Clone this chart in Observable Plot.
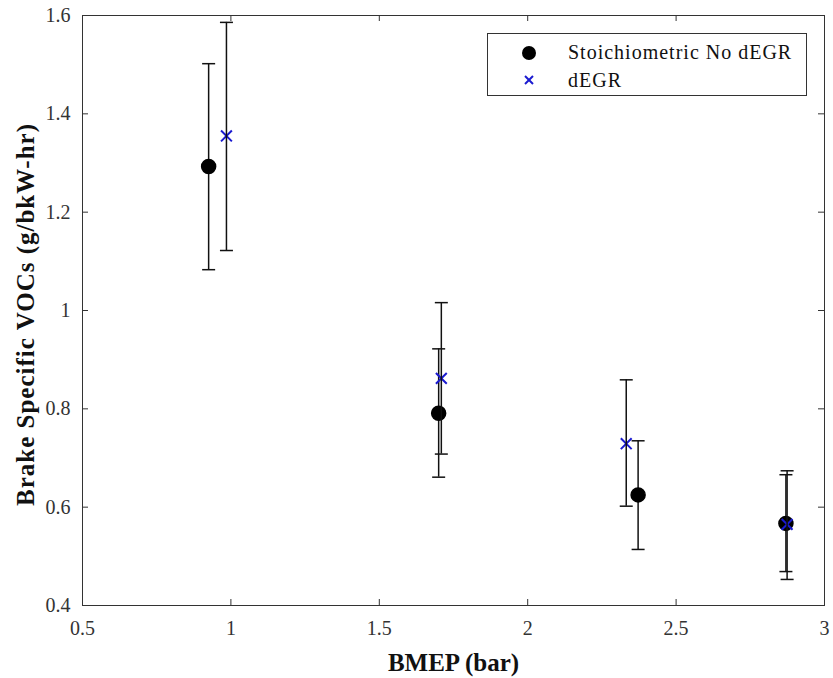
<!DOCTYPE html>
<html>
<head>
<meta charset="utf-8">
<script src="https://cdn.jsdelivr.net/npm/d3@7"></script>
<script src="https://cdn.jsdelivr.net/npm/@observablehq/plot@0.6"></script>
<style>
  body { margin: 0; background: #fff; }
  #wrap { position: relative; width: 833px; height: 678px; font-family: "Liberation Serif", "Times New Roman", "DejaVu Serif", serif; }
  #wrap svg, #wrap svg text { font-family: "Liberation Serif", "Times New Roman", "DejaVu Serif", serif !important; }
  #wrap .ylab text { letter-spacing: 1px; }
  #legend { position: absolute; left: 487px; top: 33px; width: 320px; height: 63px; border: 1px solid #333; background: #fff; box-sizing: border-box; }
  #legend text { letter-spacing: 1px; }
</style>
</head>
<body>
<div id="wrap"></div>
<script>
// Stoichiometric No dEGR
const stoichX = [0.925, 1.700, 2.372, 2.870];
const stoichY = [1.293, 0.791, 0.625, 0.567];
const stoichLo = [1.083, 0.661, 0.514, 0.469];
const stoichHi = [1.502, 0.922, 0.735, 0.666];
// dEGR
const degrX = [0.985, 1.709, 2.332, 2.874];
const degrY = [1.355, 0.862, 0.729, 0.565];
const degrLo = [1.122, 0.708, 0.602, 0.453];
const degrHi = [1.586, 1.016, 0.859, 0.674];

const xTicks = [0.5, 1, 1.5, 2, 2.5, 3];
const xTickLabels = ["0.5", "1", "1.5", "2", "2.5", "3"];
const yTicks = [0.4, 0.6, 0.8, 1.0, 1.2, 1.4, 1.6];
const yTickLabels = ["0.4", "0.6", "0.8", "1", "1.2", "1.4", "1.6"];
const seriesNames = ["Stoichiometric No dEGR", "dEGR"];
const xLabel = "BMEP (bar)";
const yLabel = "Brake Specific VOCs (g/bkW-hr)";

const stoich = stoichX.map((x, i) => ({x, y: stoichY[i], lo: stoichLo[i], hi: stoichHi[i]}));
const degr = degrX.map((x, i) => ({x, y: degrY[i], lo: degrLo[i], hi: degrHi[i]}));

const W = 833, H = 678, mL = 82, mR = 9, mT = 15, mB = 73;
const innerW = W - mL - mR, innerH = H - mT - mB;
const FONT = "Liberation Serif";

const capSymbol = { draw(ctx) { ctx.moveTo(-6.5, 0); ctx.lineTo(6.5, 0); } };
const blue = "#1a1ad0";

function errorMarks(data) {
  return [
    Plot.ruleX(data, {x: "x", y1: "lo", y2: "hi", stroke: "#111", strokeWidth: 1.5}),
    Plot.dot(data, {x: "x", y: "lo", symbol: capSymbol, stroke: "#111", strokeWidth: 1.5, fill: "none"}),
    Plot.dot(data, {x: "x", y: "hi", symbol: capSymbol, stroke: "#111", strokeWidth: 1.5, fill: "none"})
  ];
}

const chart = Plot.plot({
  width: W, height: H,
  marginLeft: mL, marginRight: mR, marginTop: mT, marginBottom: mB,
  style: {fontFamily: FONT, fontSize: "20px", color: "#333", background: "#fff"},
  x: {domain: [0.5, 3], label: null},
  y: {domain: [0.4, 1.6], label: null},
  marks: [
    Plot.frame({stroke: "#333", strokeWidth: 1}),
    Plot.axisX({ticks: xTicks, tickSize: 0, tickPadding: 15, tickFormat: (d) => xTickLabels[xTicks.indexOf(d)], fontSize: 20, fontFamily: FONT, label: null}),
    Plot.axisY({ticks: yTicks, tickSize: 0, tickPadding: 12, tickFormat: (d) => yTickLabels[yTicks.findIndex(t => Math.abs(t - d) < 1e-9)], fontSize: 20, fontFamily: FONT, label: null}),
    // inward ticks on all sides
    Plot.tickX(xTicks, {x: d => d, insetTop: innerH - 6, stroke: "#333"}),
    Plot.tickX(xTicks, {x: d => d, insetBottom: innerH - 6, stroke: "#333"}),
    Plot.tickY(yTicks, {y: d => d, insetRight: innerW - 6, stroke: "#333"}),
    Plot.tickY(yTicks, {y: d => d, insetLeft: innerW - 6, stroke: "#333"}),
    ...errorMarks(stoich),
    Plot.dot(stoich, {x: "x", y: "y", r: 7, fill: "#000", stroke: "#000"}),
    Plot.dot(degr, {x: "x", y: "y", symbol: "times", r: 5, stroke: blue, strokeWidth: 2}),
    ...errorMarks(degr),
    Plot.text([xLabel], {frameAnchor: "bottom", lineAnchor: "middle", dy: 57, fontWeight: "bold", fontSize: 25, fontFamily: FONT, fill: "#111"}),
    Plot.text([yLabel], {frameAnchor: "left", textAnchor: "middle", lineAnchor: "middle", dx: -57, dy: 4, rotate: -90, fontWeight: "bold", fontSize: 25, fontFamily: FONT, fill: "#111", className: "ylab"})
  ]
});

const wrap = document.getElementById("wrap");
wrap.appendChild(chart);

const legend = document.createElement("div");
legend.id = "legend";
legend.innerHTML = `<svg width="318" height="61" style="position:absolute;left:0;top:0;font-size:20px">
  <circle cx="41" cy="19" r="7" fill="#000"/>
  <g stroke="${blue}" stroke-width="2"><line x1="37" y1="42" x2="45" y2="50"/><line x1="45" y1="42" x2="37" y2="50"/></g>
  <text x="80" y="25" fill="#111">${seriesNames[0]}</text>
  <text x="80" y="53" fill="#111">${seriesNames[1]}</text>
</svg>`;
wrap.appendChild(legend);
</script>
</body>
</html>
